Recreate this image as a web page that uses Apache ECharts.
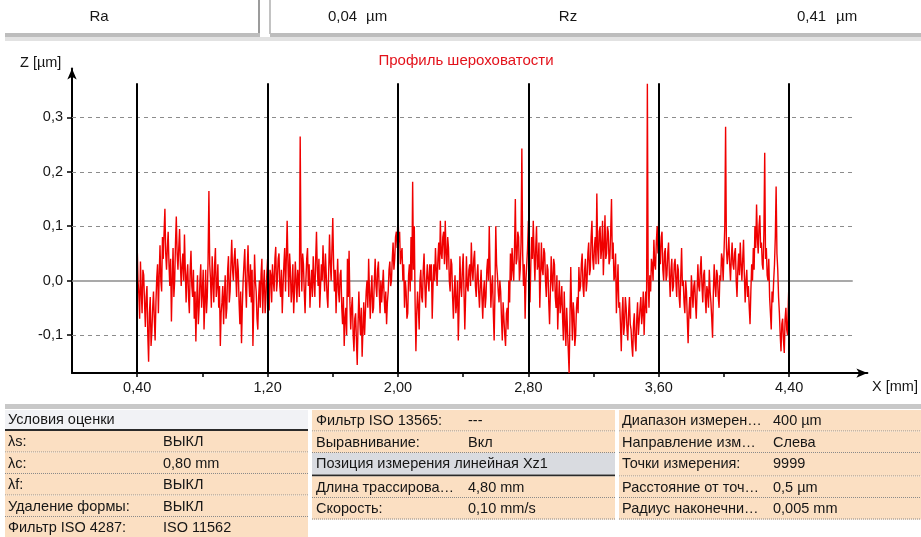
<!DOCTYPE html>
<html>
<head>
<meta charset="utf-8">
<script src="https://cdn.jsdelivr.net/npm/echarts@6/dist/echarts.min.js"></script>
<style>
  html, body { margin: 0; padding: 0; background: #fff; }
  #chart { width: 921px; height: 537px; }
</style>
</head>
<body>
<div id="chart"></div>
<script>
// Roughness profile Z [µm], sampled every 0.005 mm from X = 0.40 mm to 4.40 mm
const profileStartMm = 0.40;
const profileStepMm = 0.005;
const profileZ = [
  0.062, 0.0, -0.025, -0.07, 0.035, -0.02, -0.06, 0.02, 0.01, -0.04, -0.085, -0.03, -0.01, -0.1, -0.149, -0.06, -0.03, -0.12, -0.095, -0.05,
  -0.02, -0.07, -0.11, -0.04, 0.005, 0.03, -0.06, 0.01, 0.065, 0.0, -0.02, 0.08, 0.04, 0.09, 0.132, 0.05, 0.02, 0.06, 0.09, 0.03,
  -0.01, 0.04, -0.075, 0.0, 0.06, -0.03, 0.0, 0.07, 0.118, 0.05, 0.02, 0.06, 0.095, 0.03, -0.01, 0.03, 0.05, 0.0, 0.085, 0.02,
  -0.04, 0.01, 0.03, -0.03, -0.06, 0.02, 0.055, -0.01, -0.03, 0.02, -0.07, -0.02, -0.112, -0.04, 0.01, -0.08, -0.05, 0.0, 0.03, -0.05,
  -0.02, 0.02, -0.09, -0.04, 0.02, -0.06, -0.03, 0.04, 0.165, 0.03, 0.0, -0.05, 0.045, 0.0, -0.04, 0.03, 0.06, -0.03, -0.01, 0.03,
  -0.05, -0.01, -0.12, -0.06, -0.04, -0.01, -0.08, -0.03, 0.01, -0.07, -0.05, 0.02, 0.045, -0.04, -0.02, 0.03, 0.075, 0.02, 0.0, 0.04,
  0.06, 0.01, -0.03, 0.04, 0.02, -0.04, -0.08, -0.02, -0.115, -0.05, 0.0, 0.03, 0.058, -0.01, -0.05, 0.02, 0.065, 0.0, -0.03, 0.03,
  -0.04, 0.02, -0.12, -0.05, 0.048, 0.0, -0.02, -0.07, -0.09, -0.03, 0.0, -0.05, 0.012, 0.04, -0.06, -0.01, 0.02, -0.06, -0.03, 0.01,
  0.04, -0.01, -0.055, 0.02, 0.01, -0.04, 0.03, 0.0, -0.02, 0.04, 0.062, -0.02, 0.0, 0.04, 0.05, -0.01, -0.03, 0.02, -0.06, -0.01,
  0.03, 0.06, -0.02, 0.04, 0.11, 0.03, -0.03, 0.05, 0.02, -0.04, -0.015, 0.03, -0.06, -0.02, 0.035, 0.0, -0.04, 0.02, 0.0, -0.03,
  0.265, 0.05, -0.02, 0.05, 0.03, -0.02, -0.06, 0.0, 0.04, 0.06, -0.01, 0.03, -0.05, -0.01, 0.02, -0.03, 0.045, 0.0, -0.03, 0.04,
  0.09, 0.02, -0.01, 0.04, -0.05, -0.01, 0.03, 0.0, 0.065, 0.02, -0.02, 0.05, 0.01, -0.03, -0.05, 0.02, 0.085, 0.03, 0.0, 0.06,
  0.115, 0.03, -0.02, 0.02, -0.06, -0.01, 0.04, -0.02, -0.04, 0.01, 0.02, -0.05, -0.08, -0.03, -0.12, -0.07, -0.05, -0.1, 0.04, -0.03,
  0.055, -0.04, -0.09, -0.05, -0.03, -0.1, -0.13, -0.07, -0.06, -0.11, -0.155, -0.08, -0.02, -0.07, -0.1, -0.05, -0.14, -0.09, -0.04, -0.1,
  -0.06, -0.02, 0.0, -0.05, 0.04, -0.02, -0.07, -0.02, 0.01, -0.06, -0.05, 0.0, 0.04, -0.01, -0.03, 0.02, 0.035, -0.02, -0.06, 0.0,
  -0.04, -0.01, 0.02, -0.03, -0.06, -0.02, -0.08, -0.04, -0.02, 0.02, 0.035, -0.01, 0.0, 0.04, 0.07, 0.02, 0.04, 0.08, 0.09, 0.06,
  0.127, 0.07, 0.09, 0.03, 0.05, 0.06, 0.0, 0.03, -0.05, 0.0, -0.02, -0.07, -0.06, 0.01, 0.03, -0.02, 0.08, 0.0, 0.182, 0.02,
  0.1, -0.04, -0.13, -0.06, -0.02, -0.05, -0.09, 0.0, 0.02, -0.03, -0.04, 0.02, 0.05, -0.01, -0.05, 0.0, 0.03, 0.0, -0.02, 0.03,
  0.0, 0.03, -0.07, -0.01, 0.03, 0.0, 0.06, 0.02, -0.01, 0.04, 0.07, 0.02, 0.11, 0.05, 0.04, 0.08, 0.09, 0.03, 0.11, 0.05,
  0.02, 0.08, 0.06, 0.0, -0.02, 0.04, 0.03, -0.03, -0.07, -0.02, 0.01, -0.06, -0.04, 0.0, -0.11, -0.05, 0.045, -0.01, -0.03, 0.02,
  0.05, -0.02, -0.09, -0.03, 0.045, -0.01, -0.02, 0.02, 0.03, -0.01, 0.07, 0.02, 0.0, 0.04, 0.055, -0.01, -0.03, 0.01, 0.03, -0.02,
  -0.05, -0.01, 0.02, -0.03, -0.07, -0.02, 0.0, -0.05, -0.03, 0.02, 0.04, 0.0, 0.1, 0.02, -0.05, -0.01, 0.01, -0.06, -0.11, -0.02,
  0.1, 0.03, 0.01, -0.02, -0.04, 0.0, -0.02, -0.07, -0.11, -0.04, -0.07, -0.1, -0.12, -0.06, -0.05, -0.09, 0.0, -0.04, 0.05, 0.0,
  0.06, 0.02, 0.0, 0.06, 0.15, 0.03, 0.04, 0.09, 0.08, 0.0, 0.02, 0.07, 0.243, 0.05, -0.01, 0.03, -0.07, 0.0, 0.03, 0.06,
  0.11, 0.02, -0.04, 0.03, 0.08, 0.04, 0.11, 0.05, 0.0, 0.06, 0.1, 0.02, 0.03, 0.07, -0.05, 0.01, 0.07, 0.02, 0.01, 0.06,
  0.05, 0.0, -0.03, 0.03, 0.02, -0.04, -0.08, -0.02, 0.045, 0.0, -0.02, 0.04, 0.03, -0.03, -0.05, 0.01, -0.09, -0.04, 0.0, -0.06,
  -0.04, -0.01, -0.07, -0.11, -0.02, -0.08, -0.12, -0.05, -0.09, -0.13, -0.17, -0.07, 0.025, -0.05, -0.11, -0.04, -0.06, -0.12, -0.1, -0.05,
  -0.03, -0.06, 0.025, -0.02, -0.01, 0.03, 0.05, -0.01, -0.03, 0.02, 0.04, -0.02, 0.0, 0.05, 0.07, 0.01, 0.02, 0.08, 0.11, 0.04,
  0.02, 0.06, 0.08, 0.03, 0.16, 0.06, 0.03, 0.09, 0.1, 0.04, 0.06, 0.11, 0.01, 0.06, 0.12, 0.04, 0.05, 0.1, 0.09, 0.03,
  0.04, 0.09, 0.15, 0.04, 0.07, 0.0, 0.01, 0.05, -0.06, -0.01, 0.03, -0.05, -0.04, -0.08, -0.13, -0.06, -0.03, -0.1, -0.08, -0.03,
  -0.05, -0.09, -0.11, -0.06, -0.03, -0.08, -0.09, -0.12, -0.14, -0.08, -0.06, -0.11, -0.13, -0.07, -0.04, -0.1, -0.1, -0.05, -0.03, -0.08,
  -0.06, -0.02, -0.1, -0.05, -0.02, -0.06, 0.362, 0.0, -0.05, 0.01, -0.02, 0.04, 0.03, 0.0, 0.075, 0.03, 0.02, 0.07, 0.1, 0.05,
  0.12, 0.06, 0.03, 0.08, 0.09, 0.02, 0.0, 0.05, 0.06, 0.0, 0.01, 0.05, 0.07, 0.01, -0.03, 0.02, 0.04, -0.02, -0.01, 0.03,
  0.04, 0.0, -0.03, 0.03, 0.02, -0.03, -0.05, 0.01, 0.06, -0.01, 0.0, -0.04, -0.06, 0.0, -0.02, -0.07, -0.115, -0.06, -0.03, -0.07,
  0.01, -0.02, -0.05, -0.01, 0.0, -0.04, -0.07, -0.02, 0.03, -0.01, -0.02, 0.02, 0.045, -0.01, -0.04, 0.01, 0.02, -0.03, -0.06, -0.01,
  -0.02, -0.05, 0.02, -0.02, -0.04, -0.07, -0.105, -0.02, 0.03, -0.01, -0.03, 0.02, 0.01, -0.03, -0.05, 0.01, 0.0, 0.05, 0.04, 0.0,
  0.05, 0.1, 0.283, 0.06, 0.03, 0.05, 0.08, 0.03, 0.0, 0.04, 0.07, 0.03, 0.02, 0.05, 0.06, 0.0, -0.03, 0.02, 0.05, 0.01,
  0.07, 0.03, 0.0, 0.04, 0.075, 0.01, -0.04, 0.0, 0.02, -0.03, -0.01, -0.05, -0.08, -0.02, 0.03, 0.0, 0.06, 0.02, 0.1, 0.06,
  0.14, 0.08, 0.05, 0.1, 0.12, 0.06, 0.07, 0.03, 0.02, 0.09, 0.235, 0.04, 0.06, 0.01, 0.0, 0.04, -0.03, -0.06, -0.09, -0.02,
  -0.04, 0.0, 0.03, 0.08, 0.173, 0.05, 0.02, -0.03, -0.06, -0.1, -0.13, -0.08, -0.07, -0.11, -0.133, -0.07, -0.05, -0.09, -0.1, -0.04,
  0.01
];

// Axis ticks and labels
const xLabelValues = [0.40, 1.20, 2.00, 2.80, 3.60, 4.40];
const xTickValues = [0.40, 0.80, 1.20, 1.60, 2.00, 2.40, 2.80, 3.20, 3.60, 4.00, 4.40];
const yLabelValues = [-0.1, 0.0, 0.1, 0.2, 0.3];
const yDashedValues = [-0.1, 0.1, 0.2, 0.3];

// Sampling-length boundaries (vertical markers)
const sectionBounds = [0.40, 1.20, 2.00, 2.80, 3.60, 4.40];
const sectionTop = 0.363;

// Result header
const resultNames = ['Ra', 'Rz'];
const resultValues = ['0,04', '0,41'];
const resultUnit = 'µm';

// Evaluation conditions table
const conditionsTitle = 'Условия оценки';
const conditionsRows = [
  ['λs:', 'ВЫКЛ'],
  ['λc:', '0,80 mm'],
  ['λf:', 'ВЫКЛ'],
  ['Удаление формы:', 'ВЫКЛ'],
  ['Фильтр ISO 4287:', 'ISO 11562']
];
const middleRows = [
  ['Фильтр ISO 13565:', '---'],
  ['Выравнивание:', 'Вкл'],
  ['Позиция измерения линейная Xz1', ''],
  ['Длина трассирова…', '4,80 mm'],
  ['Скорость:', '0,10 mm/s']
];
const rightRows = [
  ['Диапазон измерен…', '400 µm'],
  ['Направление изм…', 'Слева'],
  ['Точки измерения:', '9999'],
  ['Расстояние от точ…', '0,5 µm'],
  ['Радиус наконечни…', '0,005 mm']
];

const FONT = '"Liberation Sans", Arial, sans-serif';
const PEACH = '#fbdfc2';
const TEXT = '#161616';

const profileData = profileZ.map((z, i) => [+(profileStartMm + i * profileStepMm).toFixed(4), z]);

const commaFmt = (d) => (v) => v.toFixed(d).replace('.', ',');

// ---- static decoration: header and parameters table ----
const graphics = [];

// header boxes
graphics.push({ type: 'rect', shape: { x: 5, y: 0, width: 916, height: 33 }, style: { fill: '#fff' } });
graphics.push({ type: 'line', shape: { x1: 259, y1: 0, x2: 259, y2: 34 }, style: { stroke: '#7a7a7a', lineWidth: 1.5 } });
graphics.push({ type: 'line', shape: { x1: 270, y1: 0, x2: 270, y2: 34 }, style: { stroke: '#9a9a9a', lineWidth: 1.2 } });
graphics.push({ type: 'rect', shape: { x: 5, y: 33, width: 255, height: 4 }, style: { fill: '#bdbdbd' } });
graphics.push({ type: 'rect', shape: { x: 270, y: 33, width: 651, height: 4 }, style: { fill: '#bdbdbd' } });
graphics.push({ type: 'rect', shape: { x: 5, y: 37, width: 916, height: 4 }, style: { fill: '#e2e2e2' } });
const resX = [[99, 328, 366], [568, 797, 836]];
resultNames.forEach((n, i) => {
  graphics.push({ type: 'text', x: resX[i][0], y: 17, style: { text: n, font: '15px ' + FONT, fill: TEXT, align: 'center', verticalAlign: 'middle' } });
  graphics.push({ type: 'text', x: resX[i][1], y: 17, style: { text: resultValues[i], font: '15px ' + FONT, fill: TEXT, align: 'left', verticalAlign: 'middle' } });
  graphics.push({ type: 'text', x: resX[i][2], y: 17, style: { text: resultUnit, font: '15px ' + FONT, fill: TEXT, align: 'left', verticalAlign: 'middle' } });
});

// chart captions
graphics.push({ type: 'text', x: 466, y: 61, style: { text: 'Профиль шероховатости', font: '15px ' + FONT, fill: '#e3121b', align: 'center', verticalAlign: 'middle' } });
graphics.push({ type: 'text', x: 20, y: 63, style: { text: 'Z [µm]', font: '14.5px ' + FONT, fill: TEXT, align: 'left', verticalAlign: 'middle' } });
graphics.push({ type: 'text', x: 872, y: 387, style: { text: 'X [mm]', font: '14.5px ' + FONT, fill: TEXT, align: 'left', verticalAlign: 'middle' } });

// table top bar
graphics.push({ type: 'rect', shape: { x: 5, y: 404, width: 916, height: 5 }, style: { fill: '#c8c8c8' } });

function dotted(x1, x2, y) {
  graphics.push({ type: 'line', shape: { x1: x1, y1: y, x2: x2, y2: y }, style: { stroke: '#8a8a8a', lineWidth: 1, lineDash: [1, 1] } });
}
function cellText(x, y, t) {
  graphics.push({ type: 'text', x: x, y: y, style: { text: t, font: '14.5px ' + FONT, fill: TEXT, align: 'left', verticalAlign: 'middle' } });
}

// left column: title row + condition rows
graphics.push({ type: 'rect', shape: { x: 5, y: 410, width: 303, height: 19 }, style: { fill: '#f1f2f5' } });
cellText(8, 420, conditionsTitle);
graphics.push({ type: 'rect', shape: { x: 5, y: 429, width: 303, height: 2 }, style: { fill: '#2a2a2a' } });
const rowH = 21.5;
conditionsRows.forEach((r, i) => {
  const top = 431 + i * rowH;
  graphics.push({ type: 'rect', shape: { x: 5, y: top, width: 303, height: rowH }, style: { fill: PEACH } });
  cellText(8, top + rowH / 2 + 0.5, r[0]);
  cellText(163, top + rowH / 2 + 0.5, r[1]);
  dotted(5, 308, top + rowH - 0.5);
});

// middle column
middleRows.forEach((r, i) => {
  let top = 410 + i * rowH;
  if (i >= 3) top += 2;
  const grey = i === 2;
  graphics.push({ type: 'rect', shape: { x: 312, y: top, width: 303, height: rowH }, style: { fill: grey ? '#d9dbe0' : PEACH } });
  cellText(316, top + rowH / 2 + 0.5, r[0]);
  if (r[1]) cellText(468, top + rowH / 2 + 0.5, r[1]);
  if (grey) {
    graphics.push({ type: 'rect', shape: { x: 312, y: top + rowH, width: 303, height: 2 }, style: { fill: '#2a2a2a' } });
  } else {
    dotted(312, 615, top + rowH - 0.5);
  }
});

// right column
rightRows.forEach((r, i) => {
  const top = 410 + i * rowH + (i >= 3 ? 2 : 0);
  graphics.push({ type: 'rect', shape: { x: 619, y: top, width: 302, height: rowH + (i === 2 ? 2 : 0) }, style: { fill: PEACH } });
  cellText(622, top + rowH / 2 + 0.5, r[0]);
  cellText(773, top + rowH / 2 + 0.5, r[1]);
  dotted(619, 921, top + rowH - 0.5 + (i === 2 ? 2 : 0));
});

const chart = echarts.init(document.getElementById('chart'), null, { renderer: 'canvas' });

const xMax = 4.88;
const gridEnd = 4.79;

chart.setOption({
  animation: false,
  backgroundColor: '#fff',
  grid: { left: 72, top: 68.5, width: 795.4, height: 304.6, containLabel: false, outerBoundsMode: 'none' },
  xAxis: {
    type: 'value', min: 0, max: xMax,
    axisLine: { show: true, onZero: false, symbol: ['none', 'arrow'], symbolSize: [7, 11], lineStyle: { color: '#000', width: 2 } },
    axisTick: { show: true, customValues: xTickValues, length: 4, lineStyle: { color: '#000', width: 1.5 } },
    axisLabel: { customValues: xLabelValues, formatter: commaFmt(2), color: TEXT, fontSize: 14.5, fontFamily: FONT, margin: 7 },
    splitLine: { show: false }
  },
  yAxis: {
    type: 'value', min: -0.17, max: 0.39,
    axisLine: { show: true, onZero: false, symbol: ['none', 'arrow'], symbolSize: [7, 11], lineStyle: { color: '#000', width: 2 } },
    axisTick: { show: true, customValues: yLabelValues, length: 5, lineStyle: { color: '#000', width: 1.5 } },
    axisLabel: { customValues: yLabelValues, formatter: commaFmt(1), color: TEXT, fontSize: 14.5, fontFamily: FONT, margin: 9 },
    splitLine: { show: false }
  },
  graphic: graphics,
  series: [
    {
      name: 'grid',
      type: 'line',
      data: [],
      silent: true,
      markLine: {
        z: 1,
        silent: true,
        symbol: 'none',
        label: { show: false },
        data: yDashedValues.map((v) => [
          { coord: [0, v], lineStyle: { color: '#8c8c8c', type: [4, 4], width: 1.2 } },
          { coord: [gridEnd, v] }
        ]).concat([[
          { coord: [0, 0], lineStyle: { color: '#8c8c8c', type: 'solid', width: 1.5 } },
          { coord: [gridEnd, 0] }
        ]])
      }
    },
    {
      name: 'Профиль шероховатости',
      type: 'line',
      data: profileData,
      showSymbol: false,
      symbol: 'none',
      z: 3,
      lineStyle: { color: '#f00000', width: 1.4 }
    },
    {
      name: 'sections',
      type: 'line',
      data: [],
      silent: true,
      markLine: {
        z: 6,
        silent: true,
        symbol: 'none',
        label: { show: false },
        lineStyle: { color: '#000', type: 'solid', width: 2 },
        data: sectionBounds.map((x) => [{ coord: [x, -0.17] }, { coord: [x, sectionTop] }])
      }
    }
  ]
});
</script>
</body>
</html>
